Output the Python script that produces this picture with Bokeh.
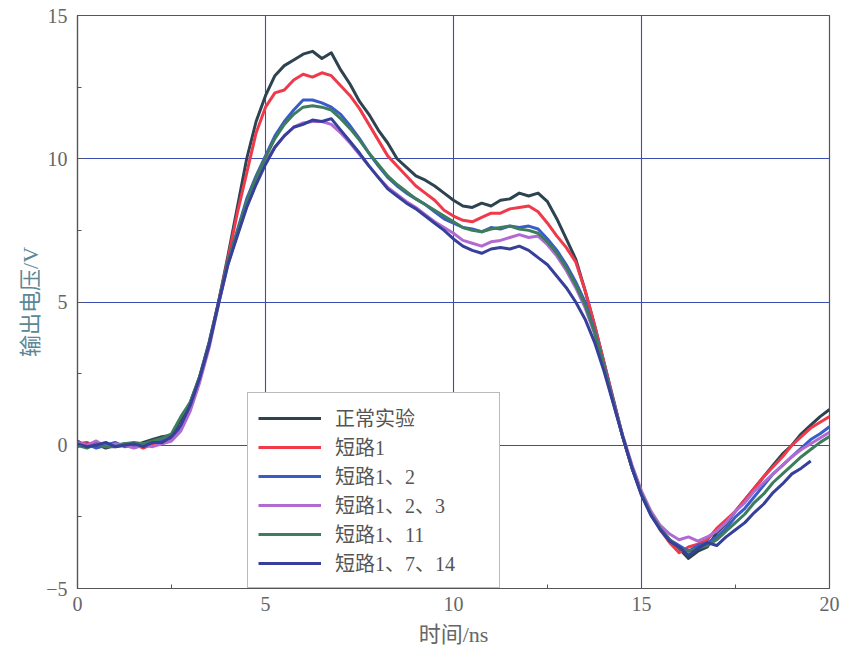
import numpy as np
from bokeh.plotting import figure
from bokeh.models import FixedTicker, Legend, LegendItem, Range1d
from bokeh.embed import file_html
from bokeh.resources import INLINE

# ---------------- data ----------------
times = np.round(np.arange(0, 20.001, 0.25), 2)

series_names = ["正常实验", "短路1", "短路1、2", "短路1、2、3", "短路1、11", "短路1、7、14"]

normal = [0.15, -0.05, 0.05, -0.10, 0.00, 0.05, -0.05, 0.10, 0.20, 0.30,
          0.35, 0.90, 1.50, 2.40, 3.60, 5.00, 6.60, 8.30, 10.00, 11.30,
          12.20, 12.90, 13.25, 13.45, 13.65, 13.75, 13.50, 13.70, 13.10, 12.60,
          12.00, 11.55, 11.00, 10.55, 10.00, 9.70, 9.40, 9.25, 9.05, 8.80,
          8.55, 8.35, 8.30, 8.45, 8.35, 8.55, 8.60, 8.80, 8.70, 8.80,
          8.50, 7.90, 7.20, 6.50, 5.40, 4.20, 2.90, 1.60, 0.30, -0.80,
          -1.70, -2.40, -2.90, -3.30, -3.60, -3.95, -3.70, -3.55, -3.05, -2.75,
          -2.30, -1.90, -1.50, -1.10, -0.70, -0.30, 0.00, 0.40, 0.70, 1.00, 1.25]

short1 = [0.05, 0.10, -0.05, 0.05, -0.05, 0.00, 0.05, -0.10, 0.05, 0.15,
          0.25, 0.65, 1.35, 2.30, 3.50, 5.00, 6.50, 8.10, 9.50, 10.90,
          11.80, 12.30, 12.40, 12.75, 12.95, 12.85, 13.00, 12.90, 12.55, 12.20,
          11.75, 11.20, 10.65, 10.10, 9.75, 9.40, 9.05, 8.80, 8.55, 8.20,
          8.00, 7.85, 7.80, 7.95, 8.10, 8.10, 8.25, 8.30, 8.35, 8.15,
          7.75, 7.30, 6.90, 6.40, 5.40, 4.20, 2.90, 1.60, 0.30, -0.80,
          -1.65, -2.35, -2.95, -3.40, -3.75, -3.55, -3.45, -3.30, -2.90, -2.60,
          -2.30, -1.90, -1.50, -1.10, -0.75, -0.40, 0.00, 0.30, 0.60, 0.80, 1.00]

short12 = [-0.05, 0.05, -0.10, 0.00, 0.10, -0.05, 0.00, 0.05, 0.10, 0.15,
           0.25, 0.60, 1.40, 2.30, 3.50, 4.95, 6.40, 7.50, 8.60, 9.40,
           10.10, 10.80, 11.30, 11.70, 12.05, 12.05, 11.95, 11.80, 11.55, 11.15,
           10.70, 10.20, 9.75, 9.35, 9.05, 8.80, 8.60, 8.40, 8.15, 7.90,
           7.75, 7.60, 7.55, 7.45, 7.60, 7.55, 7.65, 7.60, 7.65, 7.55,
           7.20, 6.80, 6.30, 5.70, 5.00, 4.00, 2.80, 1.55, 0.30, -0.80,
           -1.70, -2.40, -2.95, -3.30, -3.50, -3.70, -3.50, -3.40, -3.20, -2.90,
           -2.50, -2.20, -1.80, -1.40, -1.00, -0.70, -0.40, -0.10, 0.20, 0.40, 0.65]

short123 = [0.10, 0.00, 0.15, -0.05, 0.05, 0.00, -0.10, 0.00, -0.05, 0.05,
            0.15, 0.50, 1.20, 2.20, 3.40, 4.90, 6.30, 7.40, 8.40, 9.20,
            9.90, 10.40, 10.80, 11.10, 11.25, 11.30, 11.30, 11.20, 10.90, 10.55,
            10.15, 9.75, 9.35, 9.00, 8.75, 8.50, 8.30, 8.05, 7.80, 7.60,
            7.40, 7.15, 7.05, 6.95, 7.10, 7.15, 7.25, 7.35, 7.25, 7.30,
            7.00, 6.60, 6.10, 5.50, 4.80, 3.90, 2.70, 1.50, 0.35, -0.70,
            -1.60, -2.30, -2.80, -3.10, -3.30, -3.20, -3.35, -3.20, -3.00, -2.70,
            -2.30, -2.00, -1.60, -1.30, -1.00, -0.70, -0.40, -0.15, 0.05, 0.25, 0.45]

short111 = [0.00, -0.10, 0.05, -0.05, -0.05, 0.05, 0.10, 0.05, 0.15, 0.25,
            0.40, 1.00, 1.50, 2.40, 3.55, 4.95, 6.40, 7.45, 8.50, 9.35,
            10.05, 10.70, 11.20, 11.55, 11.80, 11.85, 11.80, 11.70, 11.40, 11.05,
            10.65, 10.20, 9.80, 9.40, 9.10, 8.85, 8.60, 8.40, 8.20, 8.00,
            7.80, 7.60, 7.50, 7.45, 7.55, 7.60, 7.65, 7.55, 7.50, 7.40,
            7.10, 6.70, 6.20, 5.60, 4.90, 3.95, 2.75, 1.50, 0.30, -0.80,
            -1.70, -2.40, -2.90, -3.30, -3.60, -3.70, -3.60, -3.50, -3.30, -3.00,
            -2.70, -2.40, -2.00, -1.70, -1.30, -1.00, -0.70, -0.40, -0.15, 0.10, 0.30]

short1714 = [0.05, -0.05, 0.00, 0.10, -0.05, 0.00, 0.05, -0.05, 0.10, 0.10,
             0.30, 0.70, 1.40, 2.35, 3.50, 4.95, 6.30, 7.30, 8.30, 9.10,
             9.80, 10.40, 10.80, 11.10, 11.20, 11.35, 11.30, 11.40, 11.00, 10.60,
             10.20, 9.75, 9.35, 8.95, 8.70, 8.45, 8.25, 8.00, 7.75, 7.50,
             7.20, 6.95, 6.80, 6.70, 6.85, 6.90, 6.85, 6.95, 6.80, 6.55,
             6.30, 5.90, 5.50, 5.00, 4.40, 3.60, 2.60, 1.45, 0.30, -0.80,
             -1.75, -2.45, -2.95, -3.35, -3.55, -3.85, -3.60, -3.40, -3.50, -3.20,
             -2.95, -2.70, -2.35, -2.05, -1.65, -1.35, -1.00, -0.80, -0.55]

x_ticks = [0, 5, 10, 15, 20]
x_minor = [2.5, 7.5, 12.5, 17.5]
y_ticks = [-5, 0, 5, 10, 15]
y_minor = [-2.5, 2.5, 7.5, 12.5]

colors = ["#2d4450", "#f03a4c", "#3a5cc8", "#b06ad2", "#3d7d5e", "#36409a"]

all_series = [normal, short1, short12, short123, short111, short1714]

# ---------------- figure ----------------
SERIF = "Liberation Serif, Noto Sans CJK SC"

p = figure(width=849, height=657, output_backend="svg", toolbar_location=None,
           x_range=Range1d(0, 20), y_range=Range1d(-5, 15),
           min_border_left=77, min_border_right=20, min_border_top=15, min_border_bottom=69)
p.background_fill_color = "white"
p.border_fill_color = "white"
p.outline_line_color = "#555555"
p.outline_line_width = 1.2

for ax, maj, mn in [(p.xaxis[0], x_ticks, x_minor), (p.yaxis[0], y_ticks, y_minor)]:
    ax.ticker = FixedTicker(ticks=maj, minor_ticks=mn)
    ax.axis_line_color = "#555555"
    ax.axis_line_width = 1.2
    ax.major_tick_in = 5
    ax.major_tick_out = 0
    ax.minor_tick_in = 4
    ax.minor_tick_out = 0
    ax.major_tick_line_color = "#555555"
    ax.minor_tick_line_color = "#555555"
    ax.major_label_text_font = SERIF
    ax.major_label_text_font_size = "20px"
    ax.major_label_text_color = "#666666"
    ax.axis_label_text_font = SERIF
    ax.axis_label_text_font_size = "22px"
    ax.axis_label_text_font_style = "normal"

p.yaxis[0].major_label_overrides = {-5: "\u22125"}
p.xaxis[0].axis_label = "时间/ns"
p.xaxis[0].axis_label_text_color = "#666666"
p.xaxis[0].major_label_standoff = 8
p.xaxis[0].axis_label_standoff = 8
p.yaxis[0].axis_label = "输出电压/V"
p.yaxis[0].axis_label_text_color = "#5b8796"
p.yaxis[0].major_label_standoff = 10
p.yaxis[0].axis_label_standoff = 0

p.xgrid.ticker = FixedTicker(ticks=x_ticks)
p.ygrid.ticker = FixedTicker(ticks=y_ticks)
for g in (p.xgrid[0], p.ygrid[0]):
    g.grid_line_color = "#3a4db3"
    g.grid_line_width = 1.1

items = []
for name, vals, col in zip(series_names, all_series, colors):
    r = p.line(times[:len(vals)], vals, line_color=col, line_width=3, line_join="round")
    items.append(LegendItem(label=name, renderers=[r]))

legend = Legend(items=items, location=(170, 0))
legend.border_line_color = "#777777"
legend.border_line_width = 1.5
legend.background_fill_color = "white"
legend.background_fill_alpha = 1.0
legend.label_text_font = SERIF
legend.label_text_font_size = "20px"
legend.label_text_color = "#555555"
legend.glyph_width = 63
legend.glyph_height = 20
legend.label_height = 20
legend.label_width = 154
legend.spacing = 0
legend.padding = 10
legend.margin = 0
legend.label_standoff = 14
p.add_layout(legend)

open("out.html", "w").write(file_html(p, INLINE))
